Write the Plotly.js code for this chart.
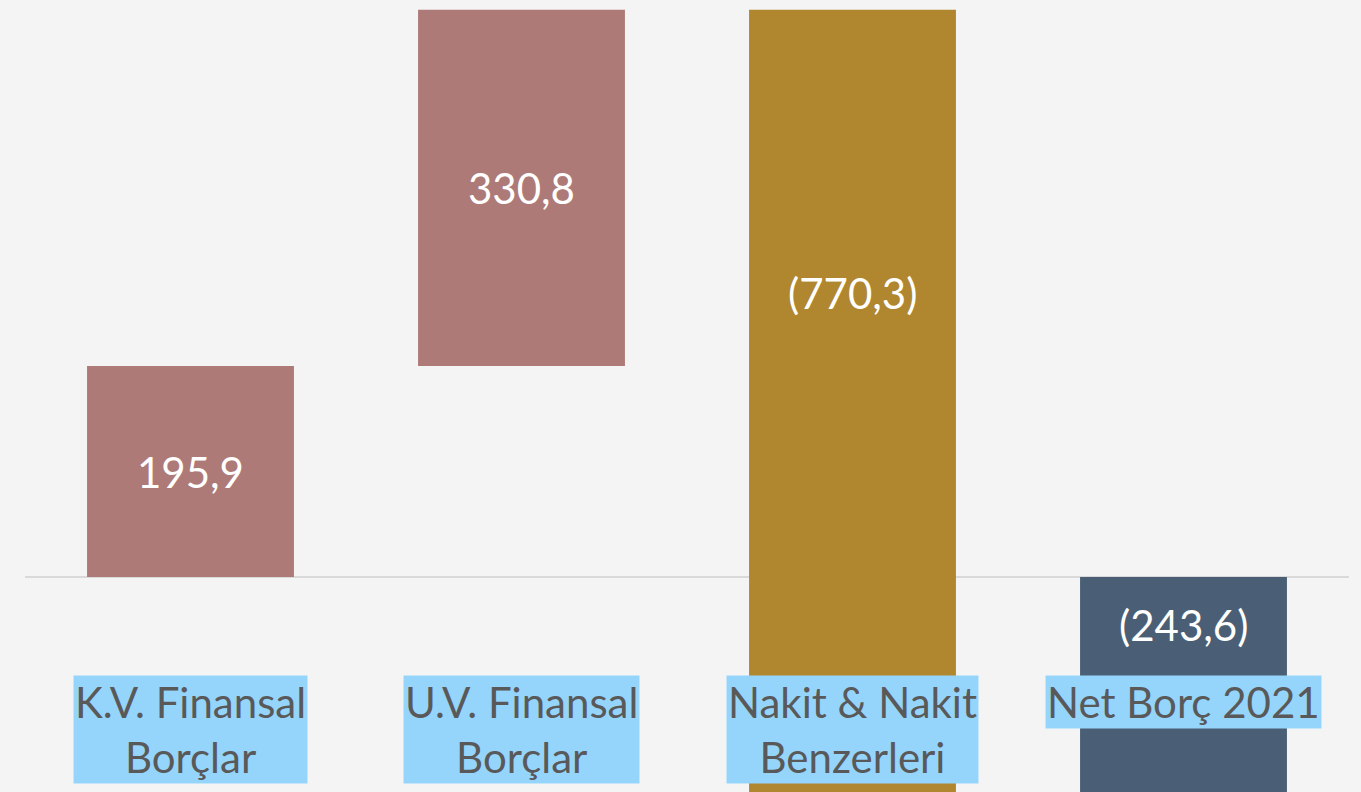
<!DOCTYPE html>
<html>
<head>
<meta charset="utf-8">
<script src="https://cdn.plot.ly/plotly-3.0.1.min.js"></script>
<style>
  html, body { margin: 0; padding: 0; background: #f4f4f4; }
  #chart { width: 1361px; height: 792px; }
</style>
</head>
<body>
<div id="chart"></div>
<script>
const categories = ['K.V. Finansal<br>Borçlar', 'U.V. Finansal<br>Borçlar', 'Nakit & Nakit<br>Benzerleri', 'Net Borç 2021'];
const values = [195.9, 330.8, -770.3, -243.6];
const measures = ['relative', 'relative', 'relative', 'total'];
const valueLabels = ['195,9', '330,8', '(770,3)', '(243,6)'];

const FONT = 'Lato, "Open Sans", sans-serif';

// cumulative starts/ends for label placement
let run = 0;
const spans = values.map((v, i) => {
  let s, e;
  if (measures[i] === 'total') { s = 0; e = v; run = v; }
  else { s = run; e = run + v; run = e; }
  return [Math.min(s, e), Math.max(s, e)];
});

const annotations = [];
spans.forEach((sp, i) => {
  const lo = Math.max(sp[0], 0), hi = sp[1];
  if (hi > 0) {
    annotations.push({
      x: categories[i], y: (lo + hi) / 2, xref: 'x', yref: 'y',
      text: valueLabels[i], showarrow: false,
      font: { family: FONT, size: 42, color: '#ffffff' }
    });
  } else {
    annotations.push({
      x: categories[i], y: 0, xref: 'x', yref: 'y', yshift: -48,
      text: valueLabels[i], showarrow: false,
      font: { family: FONT, size: 42, color: '#ffffff' }
    });
  }
  annotations.push({
    x: categories[i], y: 1 - 675 / 792, xref: 'x', yref: 'paper', yanchor: 'top',
    text: categories[i], showarrow: false, bgcolor: '#95d5fc', borderpad: 1,
    font: { family: FONT, size: 42, color: '#595959' }
  });
});

const trace = {
  type: 'waterfall',
  x: categories,
  y: values,
  measure: measures,
  increasing: { marker: { color: '#ad7a78' } },
  decreasing: { marker: { color: '#b0862e' } },
  totals: { marker: { color: '#4a5f75' } },
  connector: { visible: false },
  textinfo: 'none',
  hoverinfo: 'none'
};

const layout = {
  width: 1361, height: 792,
  margin: { l: 25, r: 12, t: 0, b: 0 },
  paper_bgcolor: '#f4f4f4',
  plot_bgcolor: '#f4f4f4',
  showlegend: false,
  waterfallgap: 0.375,
  xaxis: { type: 'category', showticklabels: false, showgrid: false, zeroline: false, showline: false, ticks: '' },
  yaxis: { range: [-199.6, 535.7], showticklabels: false, showgrid: false, zeroline: true, zerolinecolor: '#d9d9d9', zerolinewidth: 1.5, ticks: '' },
  annotations: annotations
};

Plotly.newPlot('chart', [trace], layout, { displayModeBar: false, staticPlot: true });
</script>
</body>
</html>
